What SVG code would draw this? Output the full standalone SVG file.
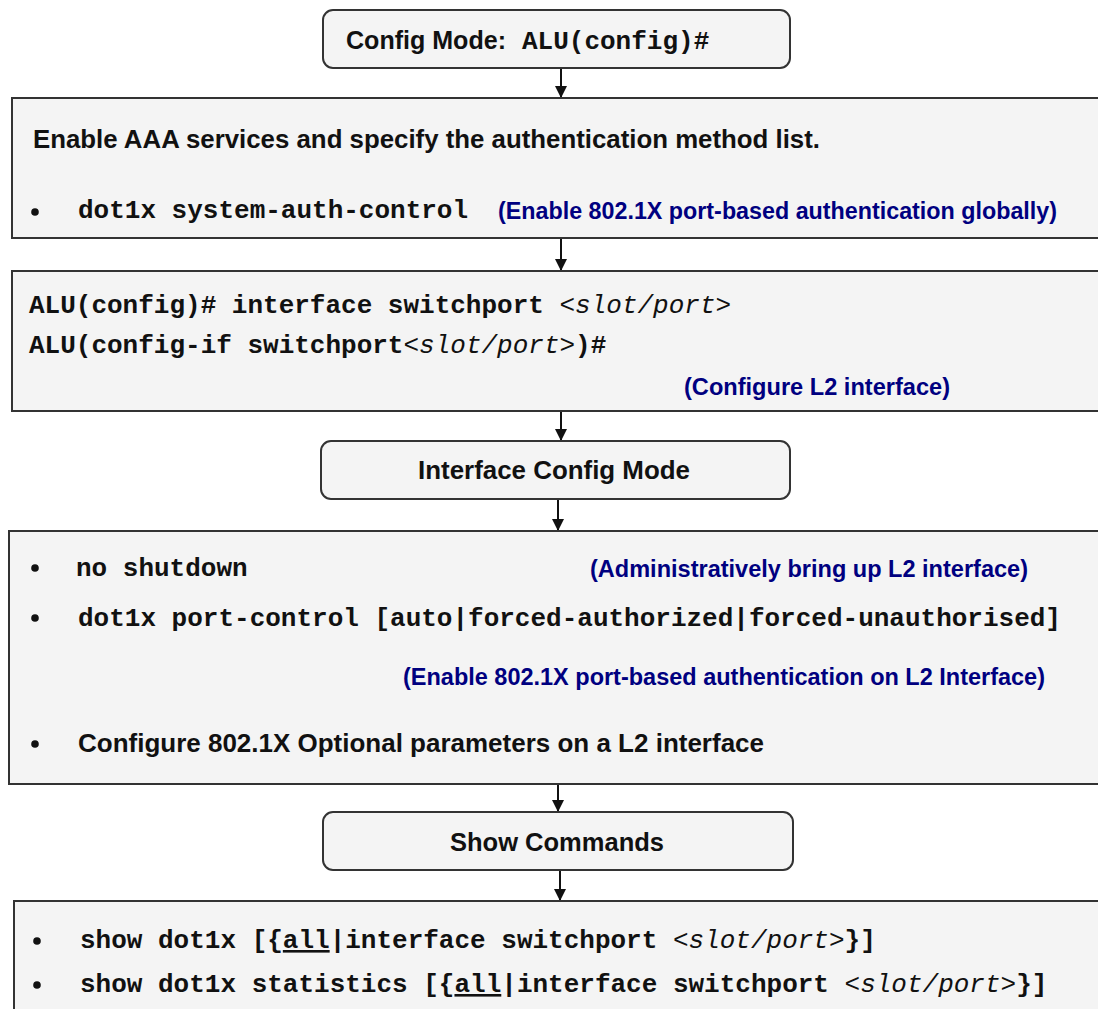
<svg xmlns="http://www.w3.org/2000/svg" width="1098" height="1009" viewBox="0 0 1098 1009">
  <style>
    .box { fill: #f4f4f4; stroke: #333333; stroke-width: 2; }
    .sans { font-family: "Liberation Sans", Arial, sans-serif; font-weight: bold; font-size: 25px; fill: #111111; }
    .note { font-family: "Liberation Sans", Arial, sans-serif; font-weight: bold; font-size: 23px; fill: #000080; }
    .mono { font-family: "Liberation Mono", "Courier New", monospace; font-weight: bold; font-size: 26px; fill: #111111; }
    .arg { font-style: italic; font-weight: normal; }
    .ul { text-decoration: underline; }
    .bullet { fill: #111111; }
    .link { stroke: #111111; stroke-width: 2; fill: none; }
  </style>
  <defs>
    <marker id="head" viewBox="0 0 12 12" refX="12" refY="6" markerWidth="12" markerHeight="12" markerUnits="userSpaceOnUse" orient="auto">
      <path d="M0,0 L12,6 L0,12 Z" fill="#111111"/>
    </marker>
  </defs>

  <!-- connectors between stages -->
  <g id="connectors">
    <line class="link" x1="561" y1="68" x2="561" y2="98" marker-end="url(#head)"/>
    <line class="link" x1="561" y1="238" x2="561" y2="271" marker-end="url(#head)"/>
    <line class="link" x1="561" y1="411" x2="561" y2="441" marker-end="url(#head)"/>
    <line class="link" x1="558" y1="499" x2="558" y2="531" marker-end="url(#head)"/>
    <line class="link" x1="558" y1="784" x2="558" y2="812" marker-end="url(#head)"/>
    <line class="link" x1="560" y1="870" x2="560" y2="901" marker-end="url(#head)"/>
  </g>

  <!-- global configuration mode -->
  <g id="config-mode">
    <rect class="box" x="323" y="10" width="467" height="58" rx="10"/>
    <text class="sans" x="346" y="49" textLength="160" lengthAdjust="spacingAndGlyphs">Config Mode:</text>
    <text class="mono" x="522" y="49">ALU(config)#</text>
  </g>

  <!-- AAA / global 802.1X -->
  <g id="aaa-services">
    <rect class="box" x="12" y="98" width="1100" height="140"/>
    <text class="sans" x="33" y="148" textLength="787" lengthAdjust="spacingAndGlyphs">Enable AAA services and specify the authentication method list.</text>
    <circle class="bullet" cx="35" cy="212" r="3.8"/>
    <text class="mono" x="78" y="218">dot1x system-auth-control</text>
    <text class="note" x="498" y="219" textLength="559" lengthAdjust="spacingAndGlyphs">(Enable 802.1X port-based authentication globally)</text>
  </g>

  <!-- L2 interface selection -->
  <g id="l2-interface">
    <rect class="box" x="12" y="271" width="1100" height="140"/>
    <text class="mono" x="29" y="313">ALU(config)# interface switchport <tspan class="arg">&lt;slot/port&gt;</tspan></text>
    <text class="mono" x="29" y="353">ALU(config-if switchport<tspan class="arg">&lt;slot/port&gt;</tspan>)#</text>
    <text class="note" x="684" y="395" textLength="266" lengthAdjust="spacingAndGlyphs">(Configure L2 interface)</text>
  </g>

  <!-- interface configuration mode -->
  <g id="interface-config-mode">
    <rect class="box" x="321" y="441" width="469" height="58" rx="10"/>
    <text class="sans" x="418" y="479" textLength="272" lengthAdjust="spacingAndGlyphs">Interface Config Mode</text>
  </g>

  <!-- per-port 802.1X settings -->
  <g id="port-settings">
    <rect class="box" x="9" y="531" width="1100" height="253"/>
    <circle class="bullet" cx="35" cy="568" r="3.8"/>
    <text class="mono" x="76" y="576">no shutdown</text>
    <text class="note" x="590" y="577" textLength="438" lengthAdjust="spacingAndGlyphs">(Administratively bring up L2 interface)</text>
    <circle class="bullet" cx="35" cy="618" r="3.8"/>
    <text class="mono" x="78" y="626">dot1x port-control [auto|forced-authorized|forced-unauthorised]</text>
    <text class="note" x="403" y="685" textLength="642" lengthAdjust="spacingAndGlyphs">(Enable 802.1X port-based authentication on L2 Interface)</text>
    <circle class="bullet" cx="35" cy="744" r="3.8"/>
    <text class="sans" x="78" y="752" textLength="686" lengthAdjust="spacingAndGlyphs">Configure 802.1X Optional parameters on a L2 interface</text>
  </g>

  <!-- show commands heading -->
  <g id="show-commands">
    <rect class="box" x="323" y="812" width="470" height="58" rx="10"/>
    <text class="sans" x="450" y="851" textLength="214" lengthAdjust="spacingAndGlyphs">Show Commands</text>
  </g>

  <!-- show command list -->
  <g id="show-list">
    <rect class="box" x="14" y="901" width="1100" height="130"/>
    <circle class="bullet" cx="37" cy="941" r="3.8"/>
    <text class="mono" x="80" y="948">show dot1x [{<tspan class="ul">all</tspan>|interface switchport <tspan class="arg">&lt;slot/port&gt;</tspan>}]</text>
    <circle class="bullet" cx="37" cy="985" r="3.8"/>
    <text class="mono" x="80" y="992">show dot1x statistics [{<tspan class="ul">all</tspan>|interface switchport <tspan class="arg">&lt;slot/port&gt;</tspan>}]</text>
  </g>
</svg>
